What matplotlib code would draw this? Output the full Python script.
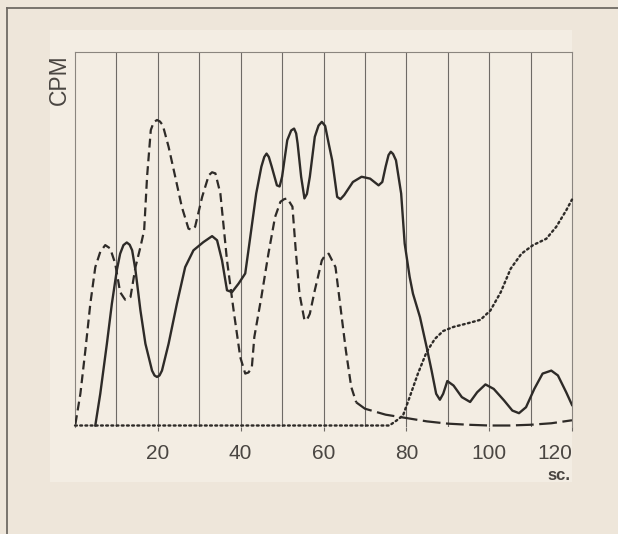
import matplotlib
matplotlib.use("Agg")
import matplotlib.pyplot as plt
from matplotlib.patches import Rectangle
from matplotlib.lines import Line2D

# solid curve
solid_x = [4.9, 6.1, 7.7, 8.9, 10.1, 10.9, 11.7, 12.5, 13.2, 13.8, 14.6, 15.8, 17.0, 18.6,
           19.2, 19.8, 20.4, 21.0, 22.6, 24.6, 26.6, 28.6, 31.0, 33.1, 34.3, 35.5, 36.7,
           37.9, 39.5, 41.1, 42.1, 43.75, 45.0, 45.7, 46.25, 46.8, 47.5, 48.75, 49.4,
           50.0, 51.25, 52.2, 52.9, 53.4, 53.75, 54.6, 55.4, 56.0, 56.7, 57.9, 58.8,
           59.6, 60.4, 61.25, 62.1, 63.3, 64.1, 65.0, 67.1, 69.2, 71.25, 73.3, 74.2,
           75.0, 75.7, 76.25, 76.8, 77.5, 78.75, 79.6, 80.8, 81.6, 83.3, 84.9, 86.1,
           87.2, 88.1, 88.9, 89.9, 91.4, 93.4, 95.4, 97.1, 99.1, 101.1, 103.6, 105.6,
           107.2, 108.9, 110.9, 112.9, 115.0, 116.6, 118.6, 120.0]
solid_y = [0.0, 8.5, 21.9, 32.6, 41.6, 46.0, 48.3, 49.0, 48.4, 46.9, 41.6, 30.8, 21.9, 14.7,
           13.4, 13.0, 13.4, 14.7, 21.9, 32.6, 42.4, 46.9, 49.1, 50.7, 49.6, 44.2, 36.2,
           35.7, 38.0, 40.7, 48.7, 62.1, 69.3, 71.9, 72.8, 71.9, 69.3, 64.3, 64.0,
           66.6, 76.4, 79.0, 79.5, 78.2, 75.5, 66.6, 60.8, 62.0, 66.6, 77.3, 80.3,
           81.3, 80.2, 75.5, 71.0, 61.2, 60.6, 61.7, 65.2, 66.6, 66.1, 64.3, 65.2,
           69.3, 72.4, 73.3, 72.7, 71.0, 62.1, 48.7, 39.8, 35.3, 29.0, 21.0, 14.7,
           8.5, 6.9, 8.5, 11.9, 10.7, 7.6, 6.3, 8.9, 11.0, 9.8, 6.7, 4.0,
           3.3, 4.9, 9.8, 13.9, 14.7, 13.4, 8.9, 5.5]

# dashed curve
dash_x = [0.1, 1.3, 2.5, 3.7, 4.9, 6.1, 7.3, 8.5, 9.7, 10.9, 12.1, 13.4, 14.6, 15.8,
          16.7, 17.4, 18.3, 19.0, 19.8, 20.5, 21.2, 22.6, 24.2, 25.8, 27.4, 28.2, 29.0,
          30.7, 32.3, 33.1, 33.9, 35.1, 36.7, 38.3, 39.9, 41.1, 41.9, 42.7, 43.3, 45.0,
          46.7, 48.3, 49.6, 50.5, 51.25, 52.5, 53.3, 54.2, 55.4, 56.0, 56.7, 57.9, 59.6,
          60.4, 61.25, 62.9, 64.2, 65.4, 66.7, 67.9, 70.0, 75.0, 80.0, 85.0, 90.0,
          95.0, 100.0, 105.0, 110.0, 115.0, 120.0]
dash_y = [0.4, 8.5, 20.1, 32.6, 42.4, 46.5, 48.3, 47.4, 43.4, 35.7, 33.7, 34.4, 42.4, 47.8,
          52.3, 66.6, 79.1, 81.2, 81.8, 81.4, 80.4, 74.6, 66.6, 58.5, 52.7, 52.4, 53.2,
          61.2, 67.0, 67.8, 67.5, 62.1, 44.2, 30.8, 18.3, 13.9, 14.2, 15.6, 23.7, 34.4,
          46.0, 55.8, 59.9, 60.6, 60.8, 58.6, 46.9, 35.3, 28.2, 28.3, 29.9, 36.2, 44.2,
          45.6, 46.0, 42.4, 30.8, 20.1, 10.3, 6.2, 4.5, 2.9, 2.0, 1.1, 0.5,
          0.2, 0.0, 0.0, 0.2, 0.6, 1.4]

# dotted curve
dot_x = [0.0, 75.9, 77.6, 79.2, 80.8, 82.8, 84.9, 86.9, 88.9, 91.4, 94.6, 97.9, 100.3,
         102.8, 105.2, 107.8, 110.6, 113.8, 116.2, 118.6, 120.0]
dot_y = [0.0, 0.0, 1.3, 2.7, 7.6, 13.9, 19.7, 23.2, 25.3, 26.4, 27.3, 28.3, 30.8,
         35.7, 42.0, 46.0, 48.3, 50.0, 53.2, 57.6, 60.5]

grid_x = [10, 20, 30, 40, 50, 60, 70, 80, 90, 100, 110]
tick_x = [20, 40, 60, 80, 100, 120]
tick_labels = ["20", "40", "60", "80", "100", "120"]

bg = "#eee6da"
panel = "#f3ede3"
ink = "#2e2b28"

plt.rcParams["font.family"] = ["Liberation Sans", "DejaVu Sans"]

fig = plt.figure(figsize=(6.18, 5.34), dpi=100, facecolor=bg)
fig.patches.append(Rectangle((50 / 618, 1 - 482 / 534), 522 / 618, 452 / 534,
                             transform=fig.transFigure, facecolor=panel,
                             edgecolor="none", zorder=-10))
# partial outer frame (left + top)
fig.add_artist(Line2D([7 / 618, 7 / 618], [0, 1 - 8 / 534], transform=fig.transFigure,
                      color="#6f6a64", lw=1.3))
fig.add_artist(Line2D([7 / 618, 1], [1 - 8 / 534, 1 - 8 / 534], transform=fig.transFigure,
                      color="#6f6a64", lw=1.3))

ax = fig.add_axes([75 / 618, 1 - 427 / 534, 497 / 618, 375 / 534])
ax.set_zorder(2)
ax.set_facecolor(panel)
ax.set_xlim(0, 120)
ax.set_ylim(-0.4, 100)

for gx in grid_x:
    ax.axvline(gx, color="#6e6a66", lw=0.8, zorder=1)

ax.plot(solid_x, solid_y, color=ink, lw=1.7, zorder=3, solid_joinstyle="round")
n_short = dash_x.index(67.9) + 1
ax.plot(dash_x[:n_short], dash_y[:n_short], color=ink, lw=1.6,
        linestyle=(0, (4, 2.2)), zorder=3, dash_joinstyle="round")
ax.plot(dash_x[n_short - 1:], dash_y[n_short - 1:], color=ink, lw=1.6,
        linestyle=(0, (8, 2.5)), zorder=3)
ax.plot(dot_x, dot_y, color=ink, lw=1.7, linestyle=(0, (0.8, 1.4)),
        dash_capstyle="round", zorder=3, clip_on=False)

for side in ["left", "top", "right"]:
    ax.spines[side].set_color("#8a857f")
    ax.spines[side].set_linewidth(0.8)
ax.spines["bottom"].set_visible(False)

ax.set_yticks([])
ax.set_xticks(tick_x)
ax.set_xticklabels(tick_labels, fontsize=15, color="#4a4642")
ax.tick_params(axis="x", length=3, width=0.8, color="#6e6a66", pad=9)
ax.get_xticklabels()[-1].set_horizontalalignment("right")

fig.text(59 / 618, 1 - 80 / 534, "CPM", rotation=90, fontsize=16.5, color="#4a4642",
         ha="center", va="center")
fig.text(570 / 618, 1 - 476 / 534, "sc.", fontsize=12, fontweight="bold",
         color="#4a4642", ha="right", va="center")

fig.savefig("out.png", dpi=100, facecolor=bg)
